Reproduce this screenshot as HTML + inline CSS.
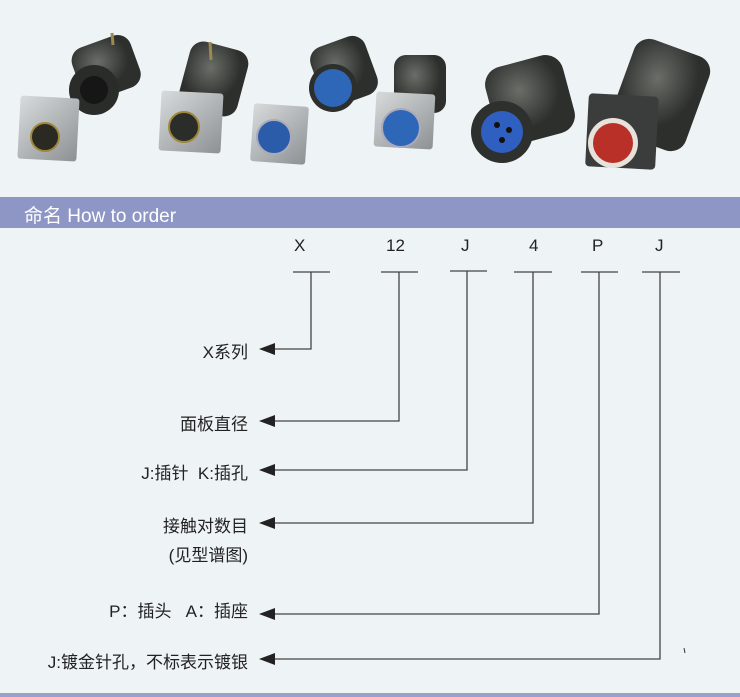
<!DOCTYPE html>
<html><head><meta charset="utf-8"><style>
html,body{margin:0;padding:0;background:#eef3f6;}
body{width:740px;height:697px;position:relative;overflow:hidden;font-family:"Liberation Sans","Noto Sans CJK SC",sans-serif;}
.t{position:absolute;font-size:17px;color:#222;white-space:nowrap;}
.r{text-align:right;right:492px;}
</style></head><body>
<svg width="740" height="697" style="position:absolute;left:0;top:0">
<defs>
<radialGradient id="dk" cx="40%" cy="35%"><stop offset="0" stop-color="#6a6e68"/><stop offset="1" stop-color="#2c2f2c"/></radialGradient>
<linearGradient id="sv" x1="0" y1="0" x2="1" y2="1"><stop offset="0" stop-color="#d8dbdc"/><stop offset="1" stop-color="#8d9193"/></linearGradient>
</defs>
<!-- photos -->
<g>
<rect x="75" y="40" width="62" height="55" rx="14" fill="url(#dk)" transform="rotate(-20 106 67)"/>
<circle cx="94" cy="90" r="25" fill="#2a2c2a"/><circle cx="94" cy="90" r="14" fill="#151615"/>
<line x1="112" y1="33" x2="113" y2="45" stroke="#9a8a50" stroke-width="3"/>
<rect x="19" y="97" width="59" height="63" rx="3" fill="url(#sv)" transform="rotate(3 48 128)"/>
<circle cx="45" cy="137" r="14" fill="#2b2a22" stroke="#a0883a" stroke-width="2"/>

<rect x="184" y="45" width="60" height="68" rx="14" fill="url(#dk)" transform="rotate(15 214 78)"/>
<line x1="210" y1="42" x2="211" y2="60" stroke="#9a8a50" stroke-width="3"/>
<rect x="160" y="92" width="62" height="60" rx="3" fill="url(#sv)" transform="rotate(3 191 122)"/>
<circle cx="184" cy="127" r="15" fill="#2a2d2a" stroke="#a0883a" stroke-width="2"/>

<rect x="252" y="105" width="55" height="58" rx="3" fill="url(#sv)" transform="rotate(4 280 134)"/>
<circle cx="274" cy="137" r="17" fill="#2a5caa" stroke="#aab" stroke-width="2"/>

<rect x="315" y="40" width="58" height="62" rx="14" fill="url(#dk)" transform="rotate(-20 344 71)"/>
<circle cx="333" cy="88" r="24" fill="#2c2f2c"/><circle cx="333" cy="88" r="19" fill="#2f67b8"/>
<rect x="394" y="55" width="52" height="58" rx="12" fill="url(#dk)"/>
<rect x="375" y="93" width="59" height="55" rx="3" fill="url(#sv)" transform="rotate(3 405 120)"/>
<circle cx="401" cy="128" r="19" fill="#2f67b8" stroke="#aab" stroke-width="2"/>

<rect x="490" y="60" width="80" height="80" rx="18" fill="url(#dk)" transform="rotate(-15 530 100)"/>
<circle cx="502" cy="132" r="31" fill="#2d302d"/><circle cx="502" cy="132" r="21" fill="#2f5fc0"/>
<circle cx="497" cy="125" r="3" fill="#111"/><circle cx="509" cy="130" r="3" fill="#111"/><circle cx="502" cy="140" r="3" fill="#111"/>

<rect x="620" y="45" width="80" height="100" rx="16" fill="url(#dk)" transform="rotate(20 660 95)"/>
<rect x="587" y="95" width="70" height="73" rx="4" fill="#3a3d3b" transform="rotate(3 622 131)"/>
<circle cx="613" cy="143" r="25" fill="#e8e2dc"/><circle cx="613" cy="143" r="20" fill="#b83028"/>
</g>
<!-- header bar -->
<rect x="0" y="197" width="740" height="31" fill="#8e96c6"/>
<rect x="0" y="693" width="740" height="4" fill="#9aa0cc"/>
<!-- ticks -->
<g stroke="#444" stroke-width="1.3" fill="none">
<line x1="293" y1="272" x2="330" y2="272"/><polyline points="311,272 311,349 270,349"/>
<line x1="381" y1="272" x2="418" y2="272"/><polyline points="399,272 399,421 270,421"/>
<line x1="450" y1="271" x2="487" y2="271"/><polyline points="467,271 467,470 270,470"/>
<line x1="514" y1="272" x2="552" y2="272"/><polyline points="533,272 533,523 270,523"/>
<line x1="581" y1="272" x2="618" y2="272"/><polyline points="599,272 599,614 270,614"/>
<line x1="642" y1="272" x2="680" y2="272"/><polyline points="660,272 660,659 270,659"/>
</g>
<g fill="#222">
<polygon points="259,349 275,343 275,355"/>
<polygon points="259,421 275,415 275,427"/>
<polygon points="259,470 275,464 275,476"/>
<polygon points="259,523 275,517 275,529"/>
<polygon points="259,614 275,608 275,620"/>
<polygon points="259,659 275,653 275,665"/>
</g>
<line x1="684" y1="648" x2="685" y2="653" stroke="#333" stroke-width="1"/>
</svg>
<div class="t" style="left:24px;top:201px;color:#fff;font-size:19px;">命名 How to order</div>
<div class="t" style="left:294px;top:236px;">X</div>
<div class="t" style="left:386px;top:236px;">12</div>
<div class="t" style="left:461px;top:236px;">J</div>
<div class="t" style="left:529px;top:236px;">4</div>
<div class="t" style="left:592px;top:236px;">P</div>
<div class="t" style="left:655px;top:236px;">J</div>
<div class="t r" style="top:338px;">X系列</div>
<div class="t r" style="top:410px;">面板直径</div>
<div class="t r" style="top:459px;">J:插针&nbsp; K:插孔</div>
<div class="t r" style="top:512px;">接触对数目</div>
<div class="t r" style="top:541px;">(见型谱图)</div>
<div class="t r" style="top:597px;">P：插头&nbsp;&nbsp; A：插座</div>
<div class="t r" style="top:648px;">J:镀金针孔，不标表示镀银</div>
</body></html>
